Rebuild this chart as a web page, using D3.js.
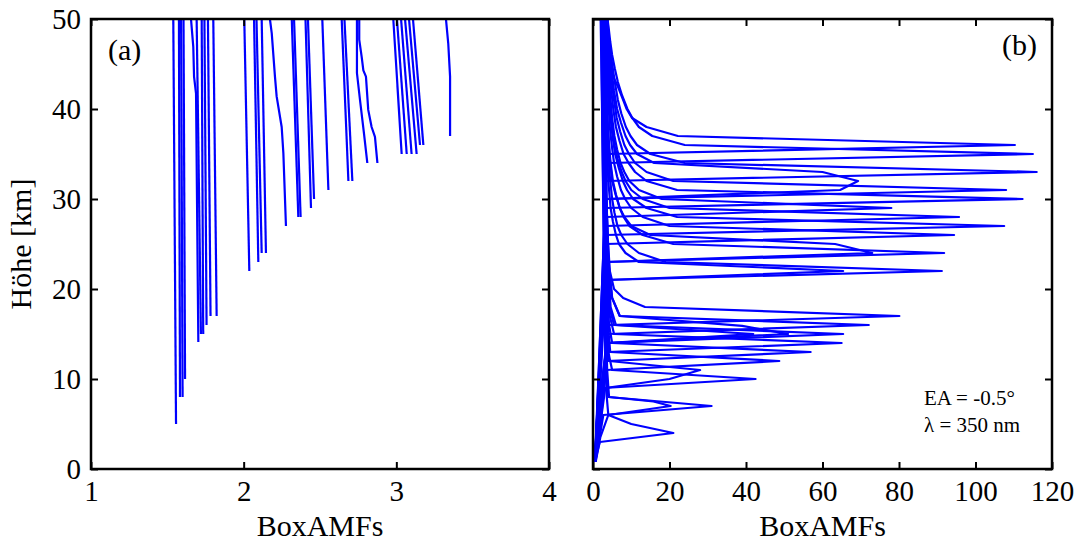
<!DOCTYPE html>
<html><head><meta charset="utf-8">
<script src="https://cdn.jsdelivr.net/npm/d3@7"></script>
<style>
body{margin:0;background:#fff}
svg{display:block}
text{font-family:"Liberation Serif","DejaVu Serif",serif;fill:#000}
</style>
</head><body>
<svg id="chart" width="1081" height="541"></svg>
<script>
// ---- tick values ----
const xTicksA = [1, 2, 3, 4];
const xTicksB = [0, 20, 40, 60, 80, 100, 120];
const yTicks = [0, 10, 20, 30, 40, 50];

// ---- panel (a): each profile as [BoxAMF, altitude km] ----
const panelA = [
  [[1.539,50],[1.557,5]],
  [[1.576,50],[1.583,8]],
  [[1.590,50],[1.600,8]],
  [[1.606,50],[1.616,10]],
  [[1.655,50],[1.670,46.9],[1.675,43.6],[1.688,41.7],[1.703,14.1]],
  [[1.692,50],[1.720,15]],
  [[1.725,50],[1.735,15]],
  [[1.743,50],[1.757,16]],
  [[1.766,50],[1.783,17]],
  [[1.801,50],[1.823,17]],
  [[2.004,50],[2.037,22]],
  [[2.068,50],[2.096,23]],
  [[2.084,50],[2.118,24]],
  [[2.118,50],[2.146,24]],
  [[2.172,50],[2.184,48.4],[2.205,43.6],[2.216,41.4],[2.249,38.0],[2.260,35.1],[2.277,27]],
  [[2.315,50],[2.358,28]],
  [[2.330,50],[2.373,28]],
  [[2.405,50],[2.441,29]],
  [[2.421,50],[2.461,30]],
  [[2.515,50],[2.555,31]],
  [[2.642,50],[2.686,32]],
  [[2.660,50],[2.712,32]],
  [[2.742,50],[2.742,44],[2.762,41],[2.788,37.3],[2.810,34]],
  [[2.757,50],[2.757,47.7],[2.773,45.8],[2.784,44.3],[2.801,43.6],[2.816,39.9],[2.838,38],[2.860,36.9],[2.876,34]],
  [[2.980,50],[3.035,35]],
  [[3.004,50],[3.068,35]],
  [[3.031,50],[3.100,35]],
  [[3.057,50],[3.133,35]],
  [[3.083,50],[3.155,36]],
  [[3.109,50],[3.177,36]],
  [[3.325,50],[3.340,47.3],[3.352,43.6],[3.352,37]]
];

// ---- panel (b): each profile as [BoxAMF, altitude km] ----
const panelB = [
  [[0.5,0.8],[1.2,2],[1.8,3],[21,4],[10,5],[4,6],[3.6,8],[3.3,12],[3.0,20],[2.7,30],[2.4,40],[2.1,50]],
  [[0.4,0.8],[1.5,3],[2.7,6],[31,7],[4,8],[3.4,10],[3.1,15],[2.9,22],[2.6,32],[2.3,42],[2.0,50]],
  [[0.7,0.8],[1.9,3.5],[4,6],[20.3,7],[15.8,7.5],[4.2,8],[3.7,11],[3.3,17],[3.0,25],[2.7,35],[2.4,45],[2.2,50]],
  [[0.6,0.8],[1.8,4],[2.8,9],[42.5,10],[5,11],[4,13],[3.5,18],[3.1,25],[2.8,35],[2.5,45],[2.3,50]],
  [[0.5,0.8],[1.6,4],[3.2,9],[20,10],[28,11],[4.2,12],[3.8,14],[3.4,20],[3.0,30],[2.7,40],[2.5,50]],
  [[0.6,0.8],[1.5,5],[3.5,11],[48.7,12],[4.5,13],[3.9,16],[3.4,22],[3.1,30],[2.8,40],[2.6,50]],
  [[0.5,0.8],[1.7,6],[3.6,12],[56.9,13],[5,14],[4.2,16],[3.6,21],[3.2,30],[2.9,40],[2.7,50]],
  [[0.6,0.8],[1.8,6],[3.8,13],[65,14],[5.5,15],[4.4,17],[3.8,22],[3.3,30],[3.0,40],[2.8,50]],
  [[0.5,0.8],[1.9,7],[3.8,14],[65.4,15],[6,16],[4.6,18],[3.9,23],[3.4,30],[3.1,40],[2.9,50]],
  [[0.7,0.8],[2,7],[4,14],[51,15],[39,15.9],[7,17],[5,19],[4,23],[3.5,30],[3.2,40],[3.0,50]],
  [[0.6,0.8],[1.7,7],[3.5,14],[41.9,15],[5.5,16],[4.3,18],[3.7,23],[3.3,31],[3.0,40],[2.8,50]],
  [[0.5,0.8],[1.8,8],[4,15],[72.1,16],[7,17],[5,19],[4.1,23],[3.5,30],[3.2,40],[3.0,50]],
  [[0.6,0.8],[2,8],[4.2,16],[80.1,17],[13.6,18],[7.9,19],[5.5,20],[4.4,22],[3.8,26],[3.4,32],[3.1,40],[2.9,50]],
  [[0.5,0.8],[1.6,8],[2.4,15],[3.1,21],[91.2,22],[19,23],[12,24],[9,25],[7.4,26],[6.4,27],[5.6,28.5],[5,30],[4.4,32.5],[4,35],[3.6,38],[3.3,41],[3.0,45],[2.8,50]],
  [[0.6,0.8],[1.7,8],[2.6,15],[3.5,21],[65.4,22],[12,23],[8.5,24],[6.8,25],[6,26],[5.2,27.5],[4.6,29],[4.1,31.5],[3.8,34],[3.5,38],[3.2,42],[2.9,46],[2.7,50]],
  [[0.5,0.8],[1.5,9],[2.5,17],[3.0,23],[91.8,24],[21,25],[13,26],[9.5,27],[8,28],[7,29],[6,30.5],[5.2,32],[4.6,34],[4.2,36],[3.8,39],[3.5,42],[3.2,46],[3.0,50]],
  [[0.6,0.8],[1.7,9],[2.7,17],[3.4,23],[73,24],[63.3,25],[15,26],[10,27],[8.2,28],[7,29],[5.9,30.5],[5,32],[4.4,34.5],[4,37],[3.6,40],[3.4,43],[3.2,46.5],[3.0,50]],
  [[0.5,0.8],[1.6,10],[2.6,18],[3.3,25],[94.4,26],[20,27],[13,28],[10,29],[8.4,30],[7.3,31],[6.3,32.5],[5.5,34],[4.9,36],[4.4,38],[4,41],[3.6,44],[3.3,47],[3.1,50]],
  [[0.6,0.8],[1.6,10],[2.5,19],[3.2,26],[107.5,27],[22,28],[14,29],[10.5,30],[8.9,31],[7.8,32],[6.7,33.5],[5.8,35],[5.1,37],[4.6,39],[4.1,42],[3.7,45],[3.4,47.5],[3.2,50]],
  [[0.5,0.8],[1.7,10],[2.6,19],[3.3,27],[95.7,28],[20,29],[13,30],[10,31],[8.5,32],[7.5,33],[6.4,34.5],[5.6,36],[5,38],[4.6,40],[4.1,42.5],[3.8,45],[3.5,47.5],[3.3,50]],
  [[0.6,0.8],[1.8,11],[2.7,20],[3.5,28],[78,29],[18,30],[12,31],[9.5,32],[8.2,33],[7.2,34],[6.3,35.5],[5.6,37],[5,39],[4.6,41],[4.1,43.5],[3.8,46],[3.5,48],[3.3,50]],
  [[0.5,0.8],[1.6,11],[2.5,20],[3.2,29],[112.3,30],[22,31],[14,32],[11,33],[9.3,34],[8,35],[6.9,36.5],[6,38],[5.3,40],[4.8,42],[4.3,44],[4,46],[3.7,48],[3.4,50]],
  [[0.6,0.8],[1.7,11],[2.6,21],[3.4,30],[108,31],[21,32],[14,33],[11,34],[9.4,35],[8.2,36],[7.1,37.5],[6.2,39],[5.5,41],[4.9,43],[4.4,45],[4,47],[3.7,48.5],[3.5,50]],
  [[0.5,0.8],[1.8,12],[2.7,21],[3.5,30],[64.6,31],[69.3,32],[60,33],[16,34],[11.5,35],[9.7,36],[8.5,37],[7.3,38.5],[6.3,40],[5.5,42],[4.9,44],[4.4,46],[4,48],[3.6,50]],
  [[0.6,0.8],[1.7,12],[2.6,22],[3.3,32],[116,33],[24,34],[15,35],[11.5,36],[9.8,37],[8.6,38],[7.4,39.5],[6.5,41],[5.7,43],[5,45],[4.5,46.5],[4.1,48],[3.8,50]],
  [[0.5,0.8],[1.6,12],[2.6,23],[3.7,34],[115,35],[24,36],[15.5,37],[12,38],[10.3,39],[9,40],[7.6,41.5],[6.5,43],[5.7,44.5],[5,46],[4.5,47.5],[4.1,49],[3.8,50]],
  [[0.6,0.8],[1.7,13],[2.7,24],[3.7,35],[110.3,36],[22.2,37],[14,38],[10.2,39],[8.8,40],[7.9,41],[6.5,42.5],[5.3,43.6],[4.6,45],[4,46.6],[3.8,48],[3.6,50]]
];

const labelsA = {tag: "(a)"};
const labelsB = {tag: "(b)", note1: "EA = -0.5°", note2: "λ = 350 nm"};
const xTitle = "BoxAMFs";
const yTitle = "Höhe [km]";

const svg = d3.select("#chart");
const yTop = 19, yBot = 469;
const y = d3.scaleLinear().domain([0, 50]).range([yBot, yTop]);
const xA = d3.scaleLinear().domain([1, 4]).range([91, 549]);
const xB = d3.scaleLinear().domain([0, 120]).range([593, 1052]);
const fs = "30px";
const fsTick = "29px";

function panel(x, xTicks, data, id, showY) {
  const g = svg.append("g");
  const [x0, x1] = x.range();
  g.append("clipPath").attr("id", id).append("rect")
    .attr("x", x0).attr("y", yTop).attr("width", x1 - x0).attr("height", yBot - yTop);
  const line = d3.line().x(d => x(d[0])).y(d => y(d[1]));
  g.append("g").attr("clip-path", `url(#${id})`)
    .selectAll("path").data(data).join("path")
    .attr("d", line).attr("fill", "none").attr("stroke", "#0000ff")
    .attr("stroke-width", 2.2).attr("stroke-linejoin", "round");

  const ax = (sel) => { sel.select(".domain").remove(); sel.selectAll(".tick line").attr("stroke", "#000").attr("stroke-width", 2); };
  const gb = g.append("g").attr("transform", `translate(0,${yBot})`)
    .call(d3.axisBottom(x).tickValues(xTicks).tickSize(-7).tickPadding(11).tickFormat(d3.format("d")));
  ax(gb); gb.selectAll("text").attr("font-size", fsTick).attr("font-family", "Liberation Serif");
  const gt = g.append("g").attr("transform", `translate(0,${yTop})`)
    .call(d3.axisTop(x).tickValues(xTicks).tickSize(-7).tickFormat(""));
  ax(gt);
  const gl = g.append("g").attr("transform", `translate(${x0},0)`)
    .call(d3.axisLeft(y).tickValues(yTicks).tickSize(-7).tickPadding(10).tickFormat(showY ? d3.format("d") : ""));
  ax(gl); gl.selectAll("text").attr("font-size", fsTick).attr("font-family", "Liberation Serif");
  const gr = g.append("g").attr("transform", `translate(${x1},0)`)
    .call(d3.axisRight(y).tickValues(yTicks).tickSize(-7).tickFormat(""));
  ax(gr);

  g.append("rect").attr("x", x0).attr("y", yTop).attr("width", x1 - x0).attr("height", yBot - yTop)
    .attr("fill", "none").attr("stroke", "#000").attr("stroke-width", 2.5);

  g.append("text").attr("x", (x0 + x1) / 2).attr("y", 536).attr("text-anchor", "middle")
    .attr("font-size", fs).text(xTitle);
  return g;
}

const gA = panel(xA, xTicksA, panelA, "clipA", true);
const gB = panel(xB, xTicksB, panelB, "clipB", false);

gA.append("text").attr("x", 108).attr("y", 60).attr("font-size", fs).text(labelsA.tag);
gB.append("text").attr("x", 1037).attr("y", 55).attr("text-anchor", "end").attr("font-size", fs).text(labelsB.tag);
gB.append("text").attr("x", 924).attr("y", 405).attr("font-size", "21px").text(labelsB.note1);
gB.append("text").attr("x", 924).attr("y", 432).attr("font-size", "21px").text(labelsB.note2);

svg.append("text").attr("transform", "translate(31,244) rotate(-90)").attr("text-anchor", "middle")
  .attr("font-size", fs).text(yTitle);
</script>
</body></html>
